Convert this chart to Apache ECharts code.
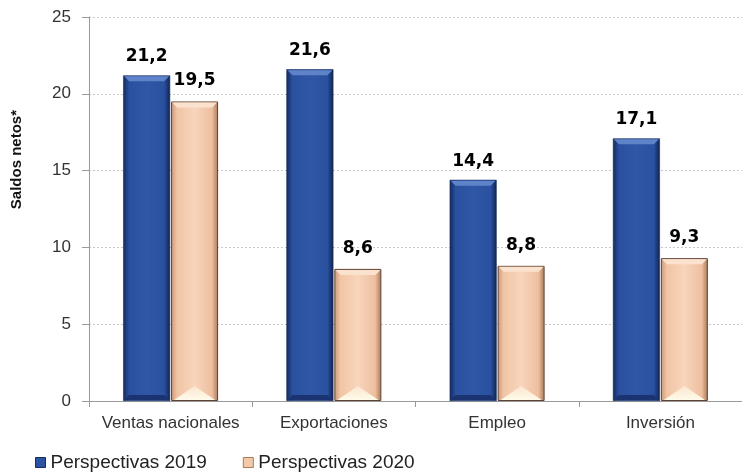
<!DOCTYPE html>
<html>
<head>
<meta charset="utf-8">
<script src="https://cdn.jsdelivr.net/npm/echarts@6/dist/echarts.min.js"></script>
<style>
html,body{margin:0;padding:0;background:#fff;}
#chart{width:742px;height:472px;}
</style>
</head>
<body>
<div id="chart"></div>
<script>
const categories = ['Ventas nacionales', 'Exportaciones', 'Empleo', 'Inversión'];
const series2019 = [21.2, 21.6, 14.4, 17.1];
const series2020 = [19.5, 8.6, 8.8, 9.3];
const seriesNames = ['Perspectivas 2019', 'Perspectivas 2020'];
const yTicks = [0, 5, 10, 15, 20, 25];

const BAR_W = 47;
const chart = echarts.init(document.getElementById('chart'));

const blueGrad = new echarts.graphic.LinearGradient(0, 0, 1, 0, [
  {offset: 0, color: '#142a5c'},
  {offset: 0.13, color: '#2a51a0'},
  {offset: 0.5, color: '#2f57a6'},
  {offset: 0.87, color: '#2a51a0'},
  {offset: 1, color: '#102250'}
]);
const peachGrad = new echarts.graphic.LinearGradient(0, 0, 1, 0, [
  {offset: 0, color: '#c9997a'},
  {offset: 0.13, color: '#f1c5a5'},
  {offset: 0.5, color: '#f8d5bc'},
  {offset: 0.87, color: '#eebf9f'},
  {offset: 1, color: '#a8795a'}
]);

const fmt = p => String(p.value).replace('.', ',');

function bevel(kind) {
  return function (params, api) {
    const idx = api.value(0), val = api.value(1);
    const top = api.coord([idx, val]);
    const base = api.coord([idx, 0]);
    const cx = top[0] + (kind === 'blue' ? -24 : 24);
    const x0 = cx - BAR_W / 2, x1 = cx + BAR_W / 2;
    const yt = top[1], yb = base[1];
    const b = 6;
    const children = [];
    if (kind === 'blue') {
      children.push({type: 'polygon', shape: {points: [[x0 + 1, yt + 1], [x1 - 1, yt + 1], [x1 - b, yt + b], [x0 + b, yt + b]]},
        style: {fill: '#5f83c8'}});
      children.push({type: 'polygon', shape: {points: [[x0 + 1, yb - 1], [x1 - 1, yb - 1], [x1 - b, yb - b], [x0 + b, yb - b]]},
        style: {fill: '#1b3370'}});
    } else {
      children.push({type: 'polygon', shape: {points: [[x0 + 1, yt + 1], [x1 - 1, yt + 1], [x1 - b, yt + b], [x0 + b, yt + b]]},
        style: {fill: '#fbe2cf'}});
      children.push({type: 'polygon', shape: {points: [[x0 + 3, yb - 1], [x1 - 3, yb - 1], [cx, yb - 15]]},
        style: {fill: new echarts.graphic.LinearGradient(0, 0, 0, 1, [
          {offset: 0, color: '#fbe6cf'}, {offset: 1, color: '#fffbea'}])}});
    }
    return {type: 'group', children: children};
  };
}

chart.setOption({
  animation: false,
  backgroundColor: '#ffffff',
  grid: {left: 89, right: -5, top: 17, bottom: 71, containLabel: false},
  legend: {
    left: 30, top: 448,
    itemWidth: 10, itemHeight: 10, itemGap: 36,
    textStyle: {fontFamily: 'Liberation Sans', fontSize: 19, color: '#222'},
    data: [
      {name: seriesNames[0], icon: 'rect', itemStyle: {color: '#2c53a2', borderColor: '#162c60', borderWidth: 1}},
      {name: seriesNames[1], icon: 'rect', itemStyle: {color: '#f3c9aa', borderColor: '#a97c5e', borderWidth: 1}}
    ]
  },
  graphic: [{
    type: 'text',
    left: 9, top: 110,
    rotation: Math.PI / 2,
    style: {text: 'Saldos netos*', font: 'bold 15px "Liberation Sans"', fill: '#111'}
  }],
  xAxis: {
    type: 'category',
    data: categories,
    axisLine: {lineStyle: {color: '#9a9a9a', width: 1}},
    axisTick: {show: true, length: 6, lineStyle: {color: '#9a9a9a'}},
    axisLabel: {interval: 0, fontFamily: 'Liberation Sans', fontSize: 17, color: '#333', margin: 14}
  },
  yAxis: {
    type: 'value',
    min: yTicks[0], max: yTicks[yTicks.length - 1], interval: 5,
    axisLine: {show: true, lineStyle: {color: '#9a9a9a', width: 1}},
    axisTick: {show: true, length: 7, lineStyle: {color: '#9a9a9a'}},
    axisLabel: {fontFamily: 'Liberation Sans', fontSize: 17, color: '#333', margin: 18},
    splitLine: {show: true, lineStyle: {color: '#c8c8c8', type: [2, 2], width: 1}}
  },
  series: [
    {
      name: seriesNames[0], type: 'bar', data: series2019,
      barWidth: BAR_W, barGap: '2%',
      itemStyle: {color: blueGrad, borderColor: '#142a5c', borderWidth: 0.6},
      label: {show: true, position: 'top', distance: 10, formatter: fmt,
        fontFamily: 'DejaVu Sans', fontWeight: 'bold', fontSize: 17, color: '#000'}
    },
    {
      name: seriesNames[1], type: 'bar', data: series2020,
      barWidth: BAR_W,
      itemStyle: {color: peachGrad, borderColor: '#5e4232', borderWidth: 1},
      label: {show: true, position: 'top', distance: 12, formatter: fmt,
        fontFamily: 'DejaVu Sans', fontWeight: 'bold', fontSize: 17, color: '#000'}
    },
    {
      name: 'bevel2019', type: 'custom', silent: true, z: 3,
      data: series2019.map((v, i) => [i, v]),
      renderItem: bevel('blue')
    },
    {
      name: 'bevel2020', type: 'custom', silent: true, z: 3,
      data: series2020.map((v, i) => [i, v]),
      renderItem: bevel('peach')
    }
  ]
});
</script>
</body>
</html>
